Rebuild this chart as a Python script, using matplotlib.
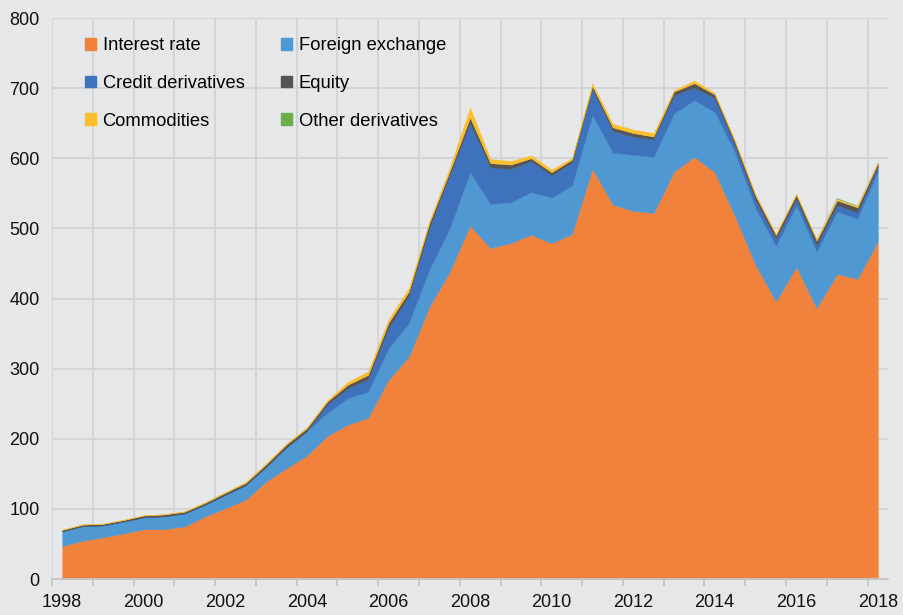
import numpy as np
import matplotlib
matplotlib.use('Agg')
import matplotlib.pyplot as plt

plt.rcParams['font.family'] = ['Liberation Sans', 'DejaVu Sans']

# semiannual points, June 1998 .. June 2018 (USD trillions)
interest_rate = [47, 54.5, 59.5, 65, 71, 71, 75, 89, 101, 113,
                 139, 158, 176, 204, 220, 230, 284, 317, 388, 438,
                 504, 472, 479, 491, 479, 492, 585, 534, 525, 522,
                 581, 602, 580, 517, 448, 396, 445, 386, 435, 428,
                 481]
foreign_exchange = [21, 21, 17, 17, 17, 18.5, 18.5, 17, 19, 21,
                    21, 30, 35, 33, 38, 37, 45, 48, 53, 62,
                    76, 63, 58, 61, 65, 69, 77, 74, 80, 80,
                    83, 81, 86, 91, 81, 79, 88, 81, 89, 86,
                    100]
credit = [0, 0, 0, 0, 0, 0, 0, 0, 0, 0,
          0, 0, 0, 12, 14, 18, 29, 39, 59, 76,
          70, 52, 48, 44, 32, 33, 37, 31, 26, 25,
          26, 18, 20, 10, 11, 10, 9, 9, 9, 9,
          7]
equity = [2, 2, 2, 2, 2.5, 2.5, 2.5, 2.5, 3, 3,
          3.5, 4, 4, 4, 5, 6, 7, 6, 7, 5,
          8, 6, 6, 4, 4, 4, 4, 5, 5, 4,
          5, 6, 5, 5, 6.5, 5.5, 6, 6.5, 7, 7,
          5]
commodities = [0.5, 0.5, 0.5, 0.6, 0.5, 0.5, 0.7, 1, 1, 1.5,
               1.5, 1.5, 1.5, 2, 4, 5, 5, 5, 3, 5,
               14, 6, 5, 4, 4, 2, 4, 5, 5, 5,
               2, 4, 2, 1.5, 2, 1.5, 1.5, 1.5, 1.5, 1.5,
               1.5]
other = [0] * 37 + [0.5, 1.5, 0.8, 0.3]

labels = ['Interest rate', 'Foreign exchange', 'Credit derivatives',
          'Equity', 'Commodities', 'Other derivatives']
colors = ['#F0823B', '#5098D2', '#3F72BC', '#555555', '#FDBE2C', '#6DAE4B']

x = np.arange(len(interest_rate))
bg = '#E6E7E9'

fig = plt.figure(figsize=(9.04, 6.15), dpi=100, facecolor=bg)
ax = fig.add_axes([0.0575, 0.0585, 0.9248, 0.9122], facecolor=bg)

polys = ax.stackplot(x, interest_rate, foreign_exchange, credit, equity,
                     commodities, other, colors=colors, linewidth=0)
for p in polys[:-1]:
    p.set_edgecolor('face')
    p.set_linewidth(0.3)
polys[-1].set_linewidth(0)

ax.set_xlim(-0.5, 40.5)
ax.set_ylim(0, 800)
ax.set_yticks(range(0, 801, 100))

ax.set_xticks(range(0, 41, 4))
ax.set_xticklabels([str(1998 + 2 * k) for k in range(11)])
ax.set_xticks(np.arange(-0.5, 40, 2), minor=True)

ax.grid(True, axis='y', color='#D2D3D5', linewidth=1.3)
ax.grid(True, axis='x', which='minor', color='#D2D3D5', linewidth=1.3)
ax.set_axisbelow(True)

for s in ['top', 'right', 'left']:
    ax.spines[s].set_visible(False)
ax.spines['bottom'].set_color('#C4C5C7')
ax.spines['bottom'].set_linewidth(1.3)

ax.tick_params(axis='y', length=0, pad=9, labelsize=13, labelcolor='#111111')
ax.tick_params(axis='x', which='major', length=0, pad=11, labelsize=13,
               labelcolor='#111111')
ax.tick_params(axis='x', which='minor', length=5, width=1.3, color='#C4C5C7')

order = [0, 2, 4, 1, 3, 5]
handles = [plt.Rectangle((0, 0), 1, 1, color=colors[i]) for i in order]
ax.legend(handles, [labels[i] for i in order], ncol=2, frameon=False,
          loc='upper left', bbox_to_anchor=(0.02, 0.995), fontsize=13.2,
          handlelength=0.6, handleheight=0.6, handletextpad=0.35,
          labelspacing=1.13, columnspacing=2.0)

fig.savefig('out.png', dpi=100, facecolor=bg)
